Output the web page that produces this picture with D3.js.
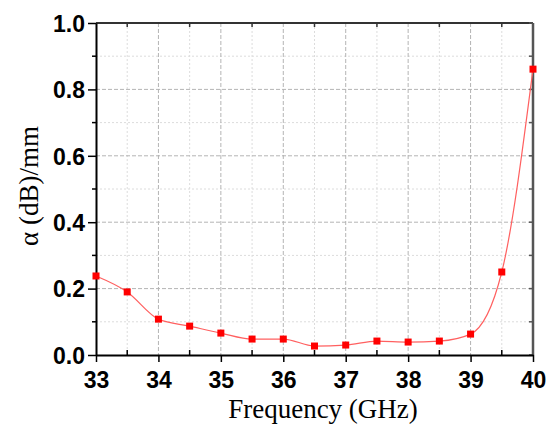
<!DOCTYPE html>
<html>
<head>
<meta charset="utf-8">
<script src="https://cdn.jsdelivr.net/npm/d3@7"></script>
<style>
  body { margin: 0; background: #fff; }
  svg { display: block; }
</style>
</head>
<body>
<script>
const frequency = [33, 33.5, 34, 34.5, 35, 35.5, 36, 36.5, 37, 37.5, 38, 38.5, 39, 39.5, 40];
const alpha = [0.238, 0.190, 0.108, 0.087, 0.066, 0.048, 0.048, 0.027, 0.030, 0.042, 0.039, 0.042, 0.063, 0.250, 0.861];
const xTicks = [33, 34, 35, 36, 37, 38, 39, 40];
const xMinor = [33.5, 34.5, 35.5, 36.5, 37.5, 38.5, 39.5];
const yTicks = [0, 0.2, 0.4, 0.6, 0.8, 1.0];
const yMinor = [0.1, 0.3, 0.5, 0.7, 0.9];

const width = 548;
const height = 426;
const plotLeft = 96, plotRight = 533, plotTop = 23, plotBottom = 355;

const svg = d3.select("body")
  .append("svg")
  .attr("width", width)
  .attr("height", height);

const x = d3.scaleLinear().domain([33, 40]).range([plotLeft, plotRight]);
const y = d3.scaleLinear().domain([0, 1]).range([plotBottom, plotTop]);

// grid
const grid = svg.append("g");
grid.selectAll(".vmin").data(xMinor).enter().append("line")
  .attr("x1", d => x(d)).attr("x2", d => x(d))
  .attr("y1", plotTop).attr("y2", plotBottom)
  .attr("stroke", "#dcdcdc").attr("stroke-dasharray", "2,2");
grid.selectAll(".hmin").data(yMinor).enter().append("line")
  .attr("x1", plotLeft).attr("x2", plotRight)
  .attr("y1", d => y(d)).attr("y2", d => y(d))
  .attr("stroke", "#dcdcdc").attr("stroke-dasharray", "2,2");
grid.selectAll(".vmaj").data(xTicks.slice(1, -1)).enter().append("line")
  .attr("x1", d => x(d)).attr("x2", d => x(d))
  .attr("y1", plotTop).attr("y2", plotBottom)
  .attr("stroke", "#b4b4b4").attr("stroke-dasharray", "4,2");
grid.selectAll(".hmaj").data(yTicks.slice(1, -1)).enter().append("line")
  .attr("x1", plotLeft).attr("x2", plotRight)
  .attr("y1", d => y(d)).attr("y2", d => y(d))
  .attr("stroke", "#b4b4b4").attr("stroke-dasharray", "4,2");

// top and right frame
svg.append("line").attr("x1", plotLeft).attr("x2", plotRight).attr("y1", plotTop).attr("y2", plotTop)
  .attr("stroke", "#333").attr("stroke-width", 2);
svg.append("line").attr("x1", plotRight).attr("x2", plotRight).attr("y1", plotTop).attr("y2", plotBottom)
  .attr("stroke", "#555").attr("stroke-width", 2.5);
svg.append("g").selectAll("line").data(yTicks.concat(yMinor)).enter().append("line")
  .attr("x1", plotRight - 4).attr("x2", plotRight)
  .attr("y1", d => y(d)).attr("y2", d => y(d))
  .attr("stroke", "#555").attr("stroke-width", 1.5);
svg.append("g").selectAll("line").data(xMinor).enter().append("line")
  .attr("x1", d => x(d)).attr("x2", d => x(d))
  .attr("y1", plotTop).attr("y2", plotTop + 4)
  .attr("stroke", "#333").attr("stroke-width", 1.5);

// bottom axis
const xAxis = svg.append("g")
  .attr("transform", "translate(0," + plotBottom + ")")
  .call(d3.axisBottom(x).tickValues(xTicks).tickFormat(d3.format("d")).tickSize(7).tickSizeOuter(0));
svg.append("g").selectAll("line").data(xMinor).enter().append("line")
  .attr("x1", d => x(d)).attr("x2", d => x(d))
  .attr("y1", plotBottom).attr("y2", plotBottom - 5)
  .attr("stroke", "#000").attr("stroke-width", 1.5);

// left axis
const yAxis = svg.append("g")
  .attr("transform", "translate(" + plotLeft + ",0)")
  .call(d3.axisLeft(y).tickValues(yTicks).tickFormat(d3.format(".1f")).tickSize(8).tickSizeOuter(0));
svg.append("g").selectAll("line").data(yMinor).enter().append("line")
  .attr("x1", plotLeft - 4).attr("x2", plotLeft)
  .attr("y1", d => y(d)).attr("y2", d => y(d))
  .attr("stroke", "#000").attr("stroke-width", 1.5);

[xAxis, yAxis].forEach(a => {
  a.select(".domain").attr("stroke", "#000").attr("stroke-width", 2);
  a.selectAll(".tick line").attr("stroke", "#000").attr("stroke-width", 1.5);
  a.selectAll("text")
    .attr("fill", "#000")
    .style("font-family", "'Liberation Sans', Arial, sans-serif")
    .style("font-weight", "bold")
    .style("font-size", "23px");
});
xAxis.selectAll("text").attr("dy", "1.0em");
yAxis.selectAll("text").attr("x", -11).attr("dy", "0.36em");

// data line
const points = frequency.map((f, i) => [f, alpha[i]]);
svg.append("path")
  .datum(points)
  .attr("fill", "none")
  .attr("stroke", "#ff6060")
  .attr("stroke-width", 1.2)
  .attr("d", d3.line().x(d => x(d[0])).y(d => y(d[1])).curve(d3.curveMonotoneX));

svg.append("g").selectAll("rect").data(points).enter().append("rect")
  .attr("x", d => x(d[0]) - 3.5)
  .attr("y", d => y(d[1]) - 3.5)
  .attr("width", 7).attr("height", 7)
  .attr("fill", "#ff0000");

// titles
svg.append("text")
  .attr("x", 323)
  .attr("y", 418)
  .attr("text-anchor", "middle")
  .style("font-family", "'Liberation Serif', 'Times New Roman', serif")
  .style("font-size", "27px")
  .text("Frequency (GHz)");

svg.append("text")
  .attr("transform", "translate(38," + 186 + ") rotate(-90)")
  .attr("text-anchor", "middle")
  .style("font-family", "'Liberation Serif', 'Times New Roman', serif")
  .style("font-size", "27px")
  .text("α (dB)/mm");
</script>
</body>
</html>
